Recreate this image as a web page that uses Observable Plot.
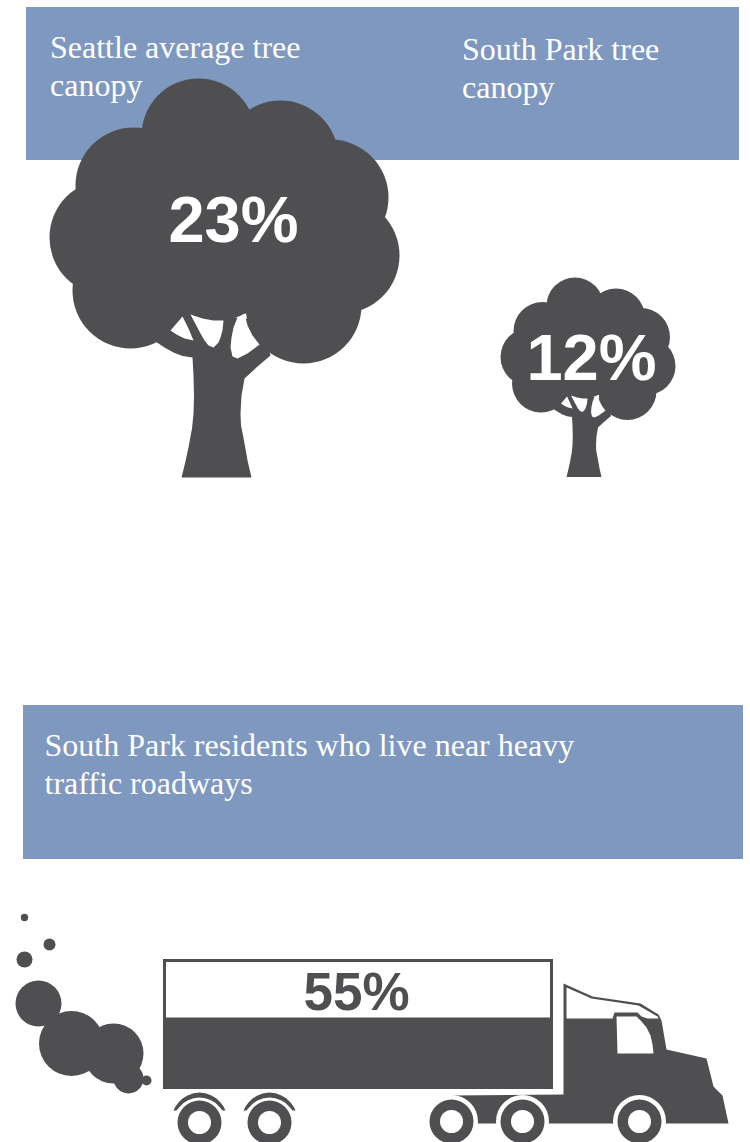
<!DOCTYPE html>
<html>
<head>
<meta charset="utf-8">
<style>
  html, body { margin: 0; padding: 0; background: #fff; }
  svg { display: block; }
</style>
<script src="https://cdn.jsdelivr.net/npm/d3@7"></script>
<script src="https://cdn.jsdelivr.net/npm/@observablehq/plot@0.6"></script>
</head>
<body>
<script>
const INK = "#4f4f51";
const PANEL = "#7f98c0";
const PAPER = "#ffffff";

// Headline figures
const seattleCanopy = 23;
const southParkCanopy = 12;
const trafficShare = 55;

// Heading panels: [left, top, right, bottom]
const panels = [
  [26, 7, 739, 160],
  [23, 705, 743, 859]
];

// Heading lines: [text, x, baseline]
const headings = [
  ["Seattle average tree", 49.5, 57],
  ["canopy", 49.5, 95],
  ["South Park tree", 461.5, 59],
  ["canopy", 461.5, 97],
  ["South Park residents who live near heavy", 44, 755],
  ["traffic roadways", 44, 793]
];

// Tree icon at full size. Crown lobes: [cx, cy, r]
const crownLobes = [
  [198, 135, 57], [280, 158, 58], [330, 197, 58], [341, 255, 58],
  [303, 305, 58], [130, 290, 58], [107, 237, 58], [133, 185, 58],
  [215, 250, 70], [225, 225, 85]
];
const trunkOutline = [
  [155, 341], [164, 347], [173, 352], [182, 355.5], [192, 357],
  [193, 375], [193.5, 395], [193, 413], [191.5, 428], [188, 447], [184, 465], [181, 477],
  [251, 477], [247, 460], [243.5, 440], [240.5, 425], [240, 413], [241, 395], [244, 378],
  [257, 366], [270, 355], [262, 320], [170, 310]
];
const branchGaps = [
  [[182, 316], [170, 330], [176, 334], [184, 338], [193, 340], [188, 328]],
  [[190, 314], [202, 318], [213, 320], [223, 320], [222, 330], [220, 337], [218, 342], [213, 347], [208, 345], [204, 340], [200, 333]],
  [[244, 313], [237, 317], [233, 327], [231, 337], [230, 347], [232, 356], [237, 358], [247, 353], [259, 344], [252, 335], [247, 325]]
];

// Placement of each tree: [size factor, x shift, y shift, label, label x, label baseline]
const trees = [
  [1, 0, 0, seattleCanopy, 233, 241],
  [0.5, 475.5, 238, southParkCanopy, 591, 379.5]
];

const crownDots = trees.flatMap(([k, dx, dy]) =>
  crownLobes.map(([cx, cy, r]) => ({x: cx * k + dx, y: cy * k + dy, r: r * k})));
const outlineRows = (outlines, prefix) => outlines.flatMap((pts, i) =>
  trees.flatMap(([k, dx, dy], t) =>
    pts.map(([x, y]) => ({shape: `${prefix}-${t}-${i}`, x: x * k + dx, y: y * k + dy}))));

// Truck icon
const cargoBox = {left: 163, top: 959, right: 553, bottom: 1089, wall: 3};
const cabOutline = [
  [450, 1095], [563, 1094], [563, 983], [592, 996], [640, 1003], [658, 1014], [661, 1020],
  [666, 1049], [706, 1058], [713, 1086], [722, 1095], [728, 1123], [470, 1123]
];
const cabOpenings = [
  [[566, 987], [591, 998], [638, 1005], [657, 1016], [658, 1018], [647, 1018], [641, 1016],
   [637, 1012], [614, 1012], [612, 1018], [566, 1018]],
  [[616, 1016], [636, 1016], [641, 1021], [646, 1027], [650, 1035], [652, 1044], [653, 1053], [617, 1053]]
];
const wheels = [[199, 1122], [269, 1122], [451, 1121], [522, 1121], [639, 1121]];
const mudguard = [
  [-26, -12], [-24, -16], [-21, -20], [-17, -24], [-12, -27], [-6, -29.3], [0, -30],
  [6, -29.3], [12, -27], [17, -24], [21, -20], [24, -16], [26, -12],
  [23, -12], [20, -15.5], [16, -19.5], [12, -22], [6, -24.3], [0, -25],
  [-6, -24.3], [-12, -22], [-16, -19.5], [-20, -15.5], [-23, -12]
];
const guardedWheels = wheels.slice(0, 2);

// Exhaust puffs: [cx, cy, r]
const smoke = [
  [24, 917, 3.7], [49, 944, 6], [24, 959, 8], [38, 1003, 23],
  [71, 1043, 32.5], [113, 1053, 30], [128, 1078, 15], [146, 1080, 5]
];

const toDot = ([x, y, r]) => ({x, y, r});
const closedShape = (rows, fill) =>
  Plot.line(rows, {x: "x", y: "y", z: "shape", fill, stroke: "none", curve: "linear-closed"});
const cargoFillTop = cargoBox.bottom - (cargoBox.bottom - cargoBox.top) * trafficShare / 100;

const chart = Plot.plot({
  width: 750,
  height: 1142,
  margin: 0,
  x: {domain: [0, 750], range: [0, 750], axis: null},
  y: {domain: [0, 1142], range: [0, 1142], axis: null},
  r: {type: "identity"},
  style: {background: PAPER},
  marks: [
    Plot.rect(panels, {x1: d => d[0], y1: d => d[1], x2: d => d[2], y2: d => d[3], fill: PANEL}),
    Plot.text(headings, {
      text: d => d[0], x: d => d[1], y: d => d[2],
      textAnchor: "start", lineAnchor: "bottom",
      fontFamily: "Liberation Serif", fontSize: 32, fill: PAPER
    }),

    // Trees
    closedShape(outlineRows([trunkOutline], "trunk"), INK),
    Plot.dot(crownDots, {x: "x", y: "y", r: "r", fill: INK}),
    closedShape(outlineRows(branchGaps, "gap"), PAPER),
    Plot.text(trees, {
      text: d => `${d[3]}%`, x: d => d[4], y: d => d[5],
      textAnchor: "middle", lineAnchor: "bottom",
      fontFamily: "Liberation Sans", fontWeight: "bold", fontSize: 65, fill: PAPER
    }),

    // Truck
    Plot.dot(smoke.map(toDot), {x: "x", y: "y", r: "r", fill: INK}),
    Plot.rect([cargoBox], {x1: "left", y1: "top", x2: "right", y2: "bottom", fill: INK}),
    Plot.rect([cargoBox], {
      x1: d => d.left + d.wall, y1: d => d.top + d.wall,
      x2: d => d.right - d.wall, y2: () => cargoFillTop, fill: PAPER
    }),
    Plot.text([trafficShare], {
      text: d => `${d}%`, x: () => 356, y: () => 1009,
      textAnchor: "middle", lineAnchor: "bottom",
      fontFamily: "Liberation Sans", fontWeight: "bold", fontSize: 53, fill: INK
    }),
    closedShape(cabOutline.map(([x, y]) => ({shape: "cab", x, y})), INK),
    closedShape(cabOpenings.flatMap((pts, i) => pts.map(([x, y]) => ({shape: `open-${i}`, x, y}))), PAPER),
    Plot.dot(wheels, {x: d => d[0], y: d => d[1], r: () => 26.5, fill: PAPER}),
    Plot.dot(wheels, {x: d => d[0], y: d => d[1], r: () => 22, fill: INK}),
    Plot.dot(wheels, {x: d => d[0], y: d => d[1], r: () => 11.5, fill: PAPER}),
    closedShape(guardedWheels.flatMap(([cx, cy], i) =>
      mudguard.map(([x, y]) => ({shape: `guard-${i}`, x: cx + x, y: cy + y}))), INK)
  ]
});

document.body.appendChild(chart);
</script>
</body>
</html>
